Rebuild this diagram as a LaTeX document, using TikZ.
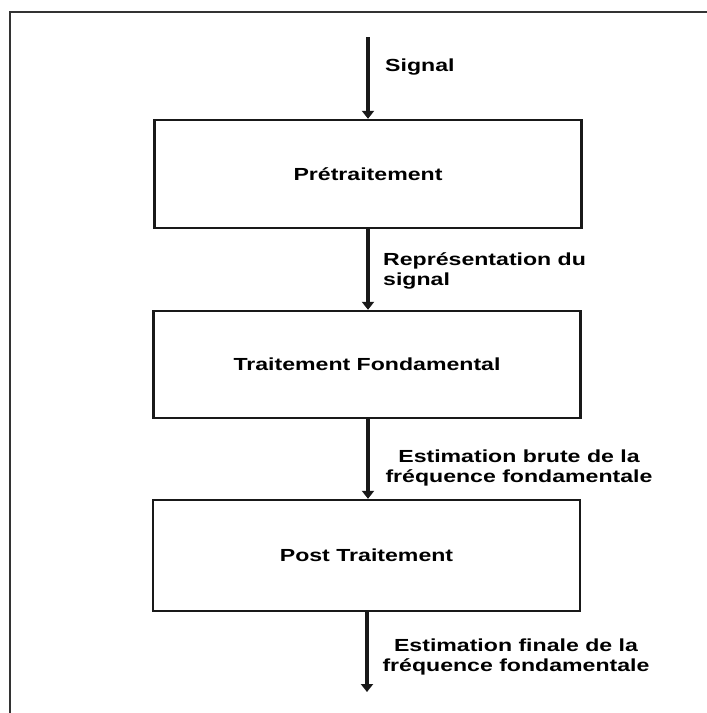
\documentclass[tikz,border=0pt]{standalone}
\usepackage{fontspec}
\newfontfamily\labfont{Liberation Sans}[FakeStretch=1.32]
\usetikzlibrary{arrows.meta}
\begin{document}
\begin{tikzpicture}[x=1pt,y=-1pt,
  stagebox/.style={draw=black!90, line width=2.4pt, minimum width=427pt, inner sep=0pt, font=\labfont\bfseries\fontsize{17.5}{20}\selectfont},
  flow/.style={draw=black!90, line width=3.6pt, -{Triangle[width=12pt,length=8pt]}},
  lab/.style={font=\labfont\bfseries\fontsize{17.5}{20}\selectfont, inner sep=0pt}]
\useasboundingbox (0,0) rectangle (707,713);
\fill[white] (0,0) rectangle (707,713);
\draw[black!80, line width=1.8pt] (707,12) -- (10,12) -- (10,713);
\node[stagebox, minimum height=108pt] (pre) at (368,174) {Prétraitement};
\node[stagebox, minimum height=107pt] (fond) at (367,364.5) {Traitement Fondamental};
\node[stagebox, minimum height=111pt] (post) at (366.5,555.5) {Post Traitement};
\coordinate (in) at (368,37);
\coordinate (out) at (367,692);
\draw[flow] (in) -- (in |- pre.north);
\draw[flow] (pre.south -| in) -- (fond.north -| in);
\draw[flow] (fond.south -| in) -- (post.north -| in);
\draw[flow] (post.south -| out) -- (out);
\node[lab, anchor=west] (l1) at (385,67) {Signal};
\node[lab, anchor=west, align=left] (l2) at (383,271) {Représentation du\\signal};
\node[lab, align=center] (l3) at (519,468) {Estimation brute de la\\fréquence fondamentale};
\node[lab, align=center] (l4) at (516,657) {Estimation finale de la\\fréquence fondamentale};
\end{tikzpicture}
\end{document}
